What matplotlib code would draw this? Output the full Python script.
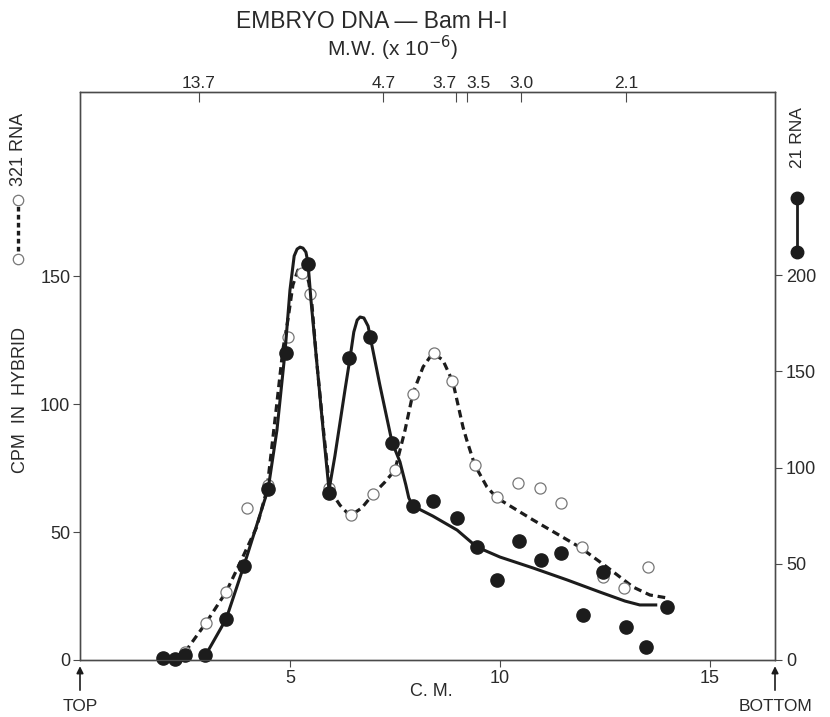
import matplotlib.pyplot as plt

plt.rcParams['font.family'] = ['Liberation Sans', 'DejaVu Sans']

# 321 RNA (open circles, left axis)
x321 = [2.5, 3.0, 3.48, 3.97, 4.48, 4.95, 5.28, 5.48, 5.93, 6.45, 6.98, 7.5, 7.94, 8.43,
        8.87, 9.40, 9.94, 10.44, 10.95, 11.45, 11.95, 12.45, 12.95, 13.52]
y321 = [3.1, 14.5, 26.6, 59.4, 68.4, 126.2, 151.2, 143.0, 67.2, 56.6, 64.8, 74.2, 103.9, 119.9,
        109.0, 76.2, 63.7, 69.1, 67.2, 61.3, 44.1, 32.4, 28.1, 36.3]

# 21 RNA (filled dots, right axis)
x21 = [1.98, 2.26, 2.5, 2.98, 3.48, 3.91, 4.48, 4.91, 5.42, 5.93, 6.41, 6.9, 7.44, 7.93,
       8.41, 8.98, 9.46, 9.93, 10.45, 10.97, 11.45, 11.97, 12.45, 12.99, 13.49, 13.97]
y21 = [0.9, 0.5, 2.6, 2.6, 21.3, 48.8, 88.8, 159.5, 205.7, 86.8, 156.9, 167.8, 113.0, 80.0,
       82.6, 73.8, 58.7, 41.6, 61.8, 51.9, 55.6, 23.4, 45.7, 17.1, 6.8, 27.5]

# hand drawn curves
cx321 = [2.5, 3.0, 3.48, 3.81, 4.21, 4.45, 4.67, 4.83, 4.95, 5.07, 5.19, 5.29, 5.38, 5.45,
         5.52, 5.64, 5.79, 5.95, 6.19, 6.43, 6.71, 6.98, 7.26, 7.5, 7.74, 7.93, 8.17, 8.4,
         8.64, 8.88, 9.12, 9.21, 9.4, 9.69, 9.93, 10.79, 11.9, 12.55, 13.17, 13.57, 14.0]
cy321 = [3.1, 14.5, 26.6, 37.9, 52.0, 66.4, 97.7, 121.1, 132.8, 146.5, 152.3, 153.1, 152.0, 147.3,
         139.5, 116.0, 91.0, 66.4, 60.5, 56.3, 59.4, 64.8, 69.5, 74.2, 89.8, 104.3, 114.5, 119.9,
         117.2, 108.6, 91.0, 85.9, 76.2, 67.6, 63.3, 54.7, 44.1, 36.3, 28.5, 25.4, 24.2]

cx21 = [2.98, 3.48, 3.9, 4.48, 4.69, 4.88, 5.0, 5.1, 5.17, 5.24, 5.31, 5.38, 5.43, 5.5,
        5.64, 5.79, 5.93, 6.07, 6.19, 6.31, 6.43, 6.52, 6.6, 6.67, 6.76, 6.86, 6.95, 7.14,
        7.43, 7.62, 7.76, 7.83, 7.93, 8.4, 8.98, 9.45, 10.0, 10.79, 11.6, 12.38, 12.98, 13.33, 13.71]
cy21 = [2.1, 21.3, 48.8, 88.8, 119.5, 159.5, 192.2, 209.9, 213.5, 214.5, 214.0, 211.9, 206.2, 187.0,
        154.3, 119.5, 88.3, 106.0, 123.1, 140.3, 156.9, 170.4, 176.6, 178.2, 177.7, 173.5, 163.6, 142.9,
        113.2, 102.9, 90.9, 84.2, 80.0, 74.8, 67.5, 58.7, 53.5, 47.8, 41.6, 35.3, 30.6, 28.6, 28.6]

# molecular weight markers on the top axis
mw_pos = [2.83, 7.22, 8.96, 9.21, 10.5, 13.0]
mw_lab = ['13.7', '4.7', '3.7', '3.5', '3.0', '2.1']

ink = '#1c1c1c'
frame = '#4a4a4a'
txt = '#2a2a2a'

fig = plt.figure(figsize=(8.3, 7.17), dpi=100)
ax = fig.add_axes([80 / 830, 57 / 717, 695 / 830, 568 / 717])
ax2 = ax.twinx()
ax3 = ax.twiny()

ax.set_xlim(0, 16.55)
ax.set_ylim(0, 221.9)
ax2.set_ylim(0, 295.1)
ax3.set_xlim(0, 16.55)

ax.plot(cx321, cy321, color=ink, lw=2.3, dashes=(2.4, 1.5), solid_capstyle='butt', zorder=2)
ax.plot(x321, y321, 'o', ms=8, mfc='white', mec='#777777', mew=0.9, zorder=3, clip_on=False)

ax2.plot(cx21, cy21, color=ink, lw=2.2, zorder=2)
ax2.plot(x21, y21, 'o', ms=9.5, mfc=ink, mec=ink, zorder=3, clip_on=False)

for a in (ax, ax2, ax3):
    for s in a.spines.values():
        s.set_color(frame)
        s.set_linewidth(0.9)

ax.set_yticks([0, 50, 100, 150])
ax.set_xticks([5, 10, 15])
ax2.set_yticks([0, 50, 100, 150, 200])
ax3.set_xticks(mw_pos)
ax3.set_xticklabels(mw_lab)

ax.tick_params(axis='both', colors=frame, labelcolor=txt, labelsize=13, length=5, width=0.8, pad=2)
ax2.tick_params(axis='y', colors=frame, labelcolor=txt, labelsize=13, length=5, width=0.8, pad=3)
ax3.tick_params(axis='x', direction='in', colors=frame, labelcolor=txt, labelsize=12.5,
                length=7, width=0.8, pad=1)
# 3.7 and 3.5 sit almost on top of each other
top_labels = ax3.get_xticklabels()
top_labels[2].set_ha('right')
top_labels[3].set_ha('left')

ax.text(-0.086, 0.458, 'CPM  IN  HYBRID', transform=ax.transAxes, rotation=90,
        ha='center', va='center', fontsize=13, color=txt)
ax.text(0.506, -0.056, 'C. M.', transform=ax.transAxes, ha='center', va='center',
        fontsize=13, color=txt)

# TOP / BOTTOM arrows
ax.annotate('', xy=(0, -0.006), xytext=(0, -0.058), xycoords='axes fraction',
            arrowprops=dict(arrowstyle='-|>', color=ink, lw=1.2, mutation_scale=10))
ax.annotate('', xy=(1, -0.006), xytext=(1, -0.058), xycoords='axes fraction',
            arrowprops=dict(arrowstyle='-|>', color=ink, lw=1.2, mutation_scale=10))
ax.text(0, -0.081, 'TOP', transform=ax.transAxes, ha='center', va='center', fontsize=12.5, color=txt)
ax.text(1, -0.081, 'BOTTOM', transform=ax.transAxes, ha='center', va='center', fontsize=12.5, color=txt)

# series keys along the side axes
ax.plot([-0.089, -0.089], [0.706, 0.81], transform=ax.transAxes, color=ink, lw=2.4,
        dashes=(1.4, 1.0), clip_on=False)
ax.plot([-0.089, -0.089], [0.706, 0.81], 'o', transform=ax.transAxes, ms=7.5, mfc='white',
        mec='#777777', mew=0.9, clip_on=False)
ax.text(-0.089, 0.898, '321 RNA', transform=ax.transAxes, rotation=90, ha='center', va='center',
        fontsize=13, color=txt)

ax2.plot([1.032, 1.032], [0.718, 0.813], transform=ax2.transAxes, color=ink, lw=2.0, clip_on=False)
ax2.plot([1.032, 1.032], [0.718, 0.813], 'o', transform=ax2.transAxes, ms=9, mfc=ink, mec=ink,
         clip_on=False)
ax2.text(1.032, 0.92, '21 RNA', transform=ax2.transAxes, rotation=90, ha='center', va='center',
         fontsize=12.5, color=txt)

fig.text(372 / 830, 1 - 22 / 717, 'EMBRYO DNA — Bam H-I', ha='center', va='center',
         fontsize=16.5, color=txt)
fig.text(392 / 830, 1 - 48 / 717, r'M.W. (x 10$^{-6}$)', ha='center', va='center',
         fontsize=15, color=txt)

fig.savefig('out.png', dpi=100, facecolor='white')
